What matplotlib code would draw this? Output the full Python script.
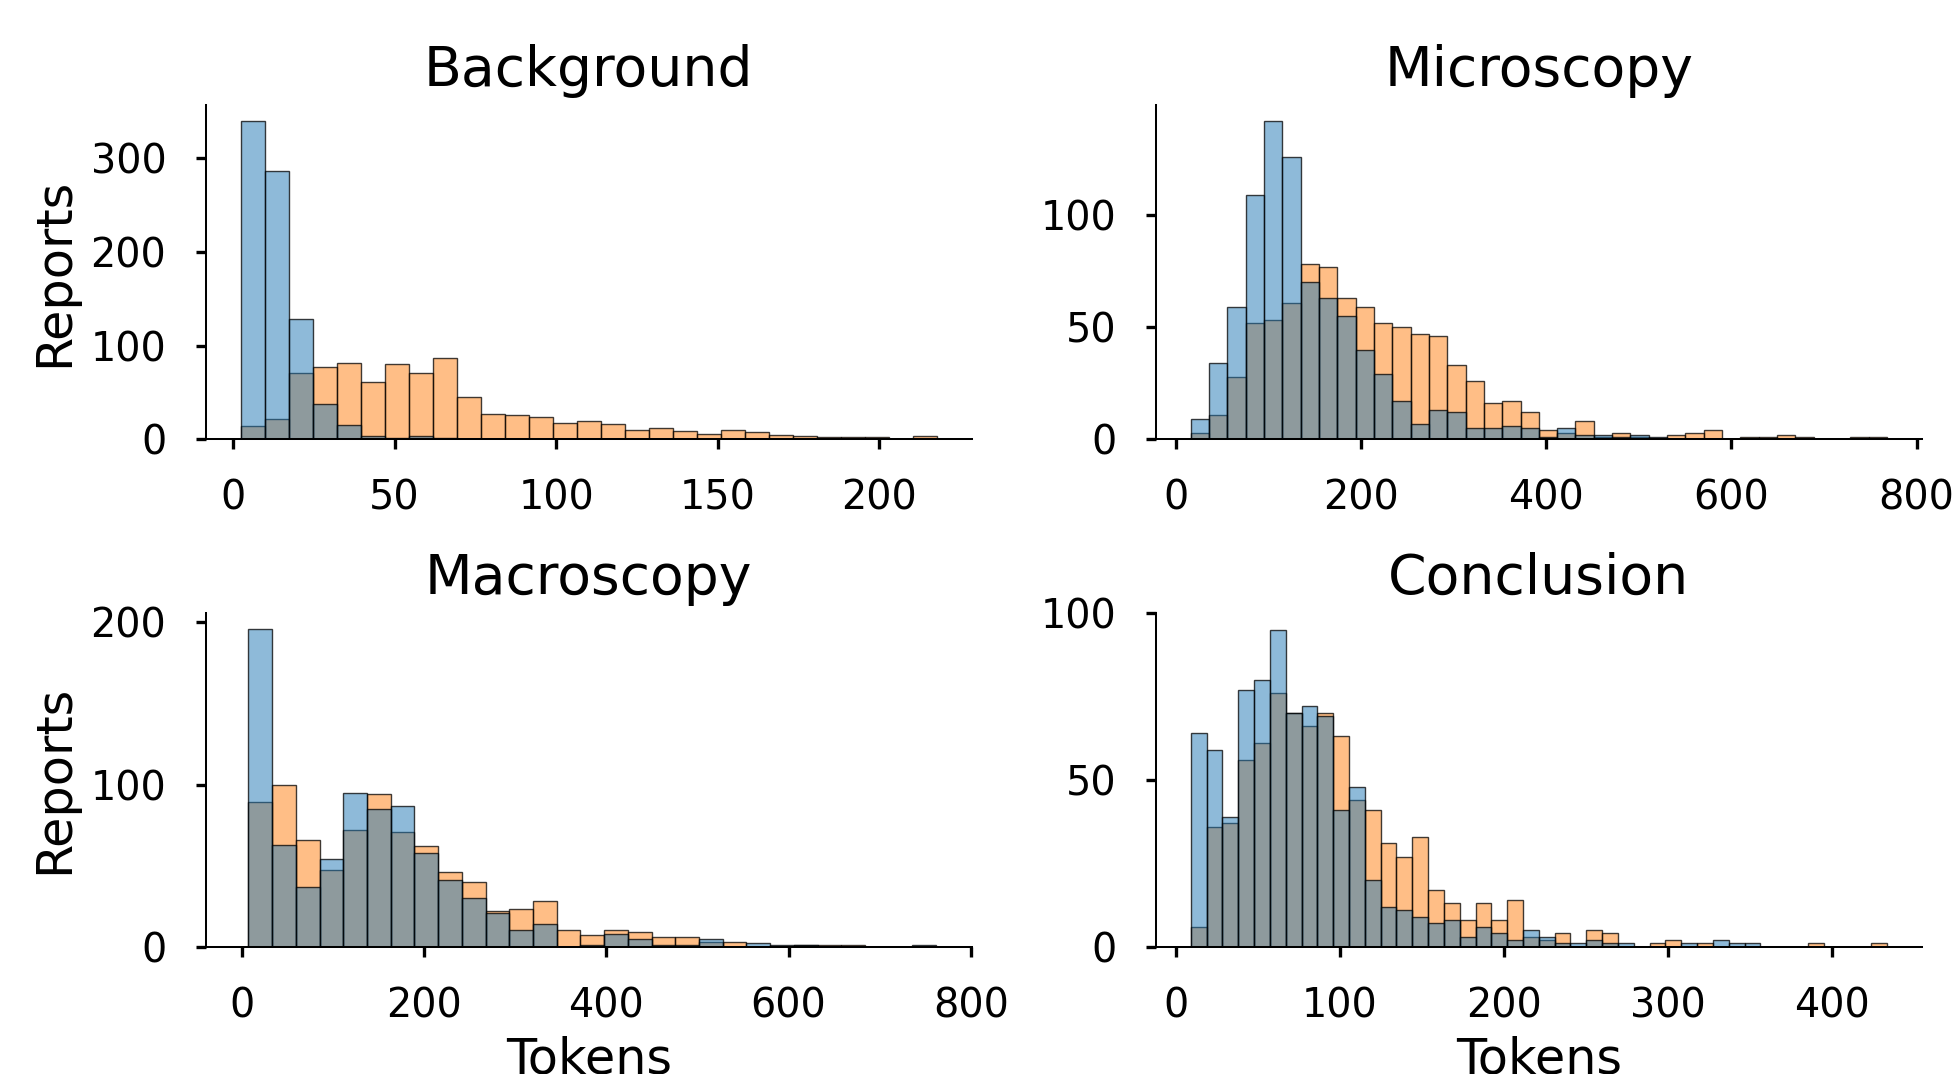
import numpy as np
import matplotlib
matplotlib.use("Agg")
import matplotlib.pyplot as plt
from matplotlib.colors import to_rgba

# ---------------- data (counts per bin) ----------------
titles = ["Background", "Microscopy", "Macroscopy", "Conclusion"]

# bin ranges (token counts) for each panel: (first edge, last edge, number of bins)
bg_range = (2.3, 217.8, 29)
mi_range = (16.2, 768.0, 38)
ma_range = (7.3, 762.0, 29)
co_range = (9.15, 433.4, 44)

bg_blue = [340, 286, 128, 38, 15, 4, 1, 3, 1, 0, 0, 0, 0, 0, 0, 0, 0, 0, 0, 0,
           0, 0, 0, 0, 0, 0, 0, 0, 0]
bg_orange = [14, 22, 71, 77, 81, 61, 80, 71, 87, 45, 27, 26, 24, 17, 20, 16, 10, 12,
             9, 6, 10, 8, 5, 3, 2, 2, 2, 0, 3]

mi_blue = [9, 34, 59, 109, 142, 126, 70, 63, 55, 40, 29, 17, 7, 13, 12, 5, 5, 6, 5,
           1, 5, 2, 2, 1, 2, 1, 0, 0, 0, 0, 0, 0, 0, 0, 0, 0, 0, 0]
mi_orange = [3, 11, 28, 52, 53, 61, 78, 77, 63, 59, 52, 50, 47, 46, 33, 26, 16, 17,
             12, 4, 3, 8, 1, 3, 1, 0, 2, 3, 4, 0, 1, 1, 2, 1, 0, 0, 1, 1]

ma_blue = [196, 63, 37, 54, 95, 85, 87, 58, 41, 30, 21, 10, 14, 0, 1, 8, 5, 1, 1, 5,
           0, 2, 1, 1, 0, 0, 0, 0, 1]
ma_orange = [89, 100, 66, 47, 72, 94, 71, 62, 46, 40, 22, 23, 28, 10, 7, 10, 9, 6, 6,
             3, 3, 0, 0, 1, 1, 1, 0, 0, 0]

co_blue = [64, 59, 39, 77, 80, 95, 70, 72, 69, 41, 48, 20, 12, 11, 9, 7, 8, 3, 6, 4,
           2, 5, 3, 1, 1, 2, 1, 1, 0, 0, 0, 1, 0, 2, 1, 1, 0, 0, 0, 0, 0, 0, 0, 0]
co_orange = [6, 36, 37, 56, 61, 76, 70, 66, 70, 63, 44, 41, 31, 27, 33, 17, 13, 8, 13,
             8, 14, 3, 2, 4, 0, 5, 4, 0, 0, 1, 2, 0, 1, 0, 0, 0, 0, 0, 0, 1, 0, 0, 0, 1]

x_ticks = [[0, 50, 100, 150, 200], [0, 200, 400, 600, 800],
           [0, 200, 400, 600, 800], [0, 100, 200, 300, 400]]
y_ticks = [[0, 100, 200, 300], [0, 50, 100], [0, 100, 200], [0, 50, 100]]
x_limits = [None, None, (-39.5, 801.0), None]

panels = [
    (bg_range, bg_blue, bg_orange),
    (mi_range, mi_blue, mi_orange),
    (ma_range, ma_blue, ma_orange),
    (co_range, co_blue, co_orange),
]

# ---------------- styling ----------------
plt.rcParams['font.family'] = ['DejaVu Sans']
BLUE = "#1f77b4"
ORANGE = "#ff7f0e"
EDGE = (0, 0, 0, 0.75)

W, H = 1958, 1074
fig = plt.figure(figsize=(W / 100, H / 100), dpi=100)

# axes boxes in pixels: (left, top, right, bottom)
boxes = [
    (205.7, 105.0, 971.7, 439.3),
    (1156.0, 105.0, 1921.7, 439.3),
    (205.7, 613.0, 971.7, 946.7),
    (1156.0, 613.0, 1921.7, 946.7),
]

for i, (rng, blue, orange) in enumerate(panels):
    l, t, r, b = boxes[i]
    ax = fig.add_axes([l / W, 1 - b / H, (r - l) / W, (b - t) / H])
    edges = np.linspace(rng[0], rng[1], rng[2] + 1)
    widths = np.diff(edges)
    ax.bar(edges[:-1], orange, width=widths, align='edge',
           facecolor=to_rgba(ORANGE, 0.5), edgecolor=EDGE, linewidth=1.0)
    ax.bar(edges[:-1], blue, width=widths, align='edge',
           facecolor=to_rgba(BLUE, 0.5), edgecolor=EDGE, linewidth=1.0)
    ax.margins(x=0.05, y=0.05)
    ax.set_ylim(bottom=0)
    if x_limits[i] is not None:
        ax.set_xlim(*x_limits[i])
    ax.set_xticks(x_ticks[i])
    ax.set_yticks(y_ticks[i])
    for s in ("top", "right"):
        ax.spines[s].set_visible(False)
    for s in ("left", "bottom"):
        ax.spines[s].set_linewidth(1.45)
    ax.tick_params(axis='both', length=7.4, width=2.4, pad=21, labelsize=28.6)
    ax.set_title(titles[i], fontsize=39.8, pad=13.7)
    if i % 2 == 0:
        ax.set_ylabel("Reports", fontsize=35.5, labelpad=9)
    if i >= 2:
        ax.set_xlabel("Tokens", fontsize=35.5, labelpad=6.5)

fig.savefig("out.png", dpi=100)
